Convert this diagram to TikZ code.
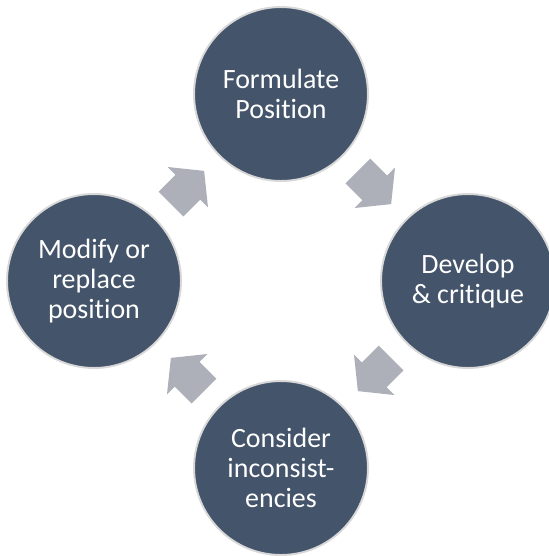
\documentclass[tikz,border=0pt]{standalone}
\usepackage{fontspec}
\setmainfont{Carlito}[Ligatures=NoCommon]
\usetikzlibrary{calc}
\usepackage{xcolor}
\definecolor{stagefill}{RGB}{68,84,106}
\definecolor{stageline}{RGB}{216,216,216}
\definecolor{flowgray}{RGB}{173,176,185}
\def\ringsep{187}

\begin{document}
\begin{tikzpicture}[x=0.02cm,y=-0.02cm]
    \tikzstyle{stage}=[circle,fill=stagefill,draw=stageline,line width=1.1pt,minimum size=3.48cm,inner sep=0pt,text=white,align=center,font=\fontsize{15.9}{17.2}\selectfont]
    \tikzstyle{flow arrow}=[fill=flowgray]
    \useasboundingbox (0,0) rectangle (549,556);

    % the four stages round the cycle
    \node[stage] (form) at (281,94) {Formulate\\Position};
    \node[stage] (dev) at (281+\ringsep,281) {Develop\\\& critique};
    \node[stage] (cons) at (281,94+2*\ringsep) {Consider\\inconsist-\\encies};
    \node[stage] (mod) at (281-\ringsep,281) {Modify or\\replace\\position};

    % block arrows half way between stages
    \foreach \src/\dst/\ang in {form/dev/-45, dev/cons/-135, cons/mod/135, mod/form/45}
        \fill[flow arrow, shift={($(\src)!0.5!(\dst)$)}, rotate=\ang]
            (-23.5,-17.5) -- (0.5,-17.5) -- (0.5,-28.5) -- (23.5,0)
            -- (0.5,28.5) -- (0.5,17.5) -- (-23.5,17.5) -- cycle;
\end{tikzpicture}
\end{document}
